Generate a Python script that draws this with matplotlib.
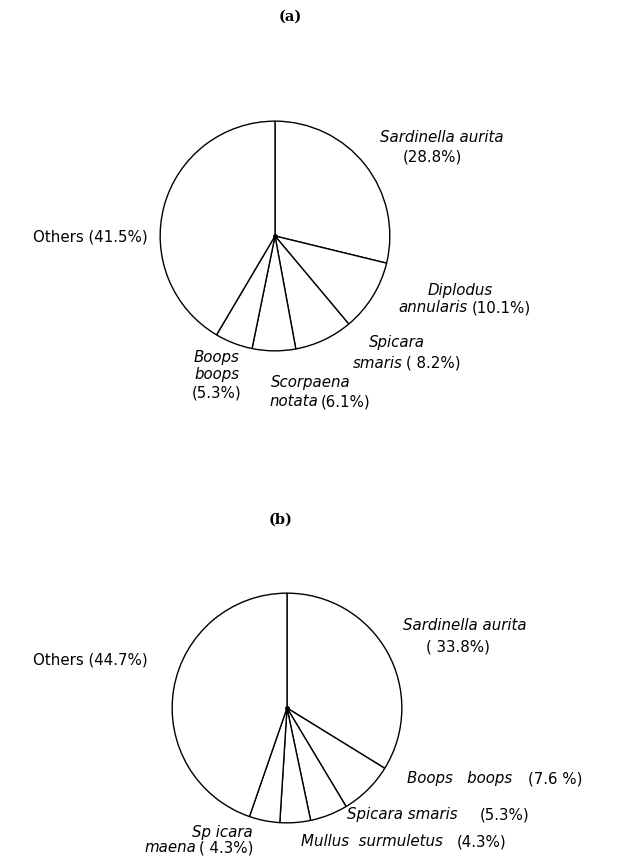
import matplotlib.pyplot as plt

W, H = 623, 859

# (a) species shares
species_a = ['Sardinella aurita', 'Diplodus annularis', 'Spicara smaris',
             'Scorpaena notata', 'Boops boops', 'Others']
share_a = [28.8, 10.1, 8.2, 6.1, 5.3, 41.5]

# (b) species shares
species_b = ['Sardinella aurita', 'Boops boops', 'Spicara smaris',
             'Mullus surmuletus', 'Spicara maena', 'Others']
share_b = [33.8, 7.6, 5.3, 4.3, 4.3, 44.7]

# label pieces: (text, x px, y px, italic, ha)
labels_a = [
    ('Sardinella aurita', 442, 138, True, 'center'),
    ('(28.8%)', 432, 157, False, 'center'),
    ('Others (41.5%)', 148, 237, False, 'right'),
    ('Diplodus', 460, 290, True, 'center'),
    ('annularis', 468, 308, True, 'right'),
    ('(10.1%)', 472, 308, False, 'left'),
    ('Spicara', 397, 343, True, 'center'),
    ('smaris', 403, 363, True, 'right'),
    ('( 8.2%)', 406, 363, False, 'left'),
    ('Boops', 217, 357, True, 'center'),
    ('boops', 217, 375, True, 'center'),
    ('(5.3%)', 217, 393, False, 'center'),
    ('Scorpaena', 311, 383, True, 'center'),
    ('notata', 318, 402, True, 'right'),
    ('(6.1%)', 321, 402, False, 'left'),
]
labels_b = [
    ('Sardinella aurita', 465, 626, True, 'center'),
    ('( 33.8%)', 458, 647, False, 'center'),
    ('Others (44.7%)', 148, 660, False, 'right'),
    ('Boops   boops', 512, 779, True, 'right'),
    ('(7.6 %)', 528, 779, False, 'left'),
    ('Spicara smaris', 458, 815, True, 'right'),
    ('(5.3%)', 480, 815, False, 'left'),
    ('Mullus  surmuletus', 443, 842, True, 'right'),
    ('(4.3%)', 457, 842, False, 'left'),
    ('Sp icara', 222, 832, True, 'center'),
    ('maena', 196, 848, True, 'right'),
    ('( 4.3%)', 199, 848, False, 'left'),
]

plt.rcParams['font.family'] = 'DejaVu Sans'
fig = plt.figure(figsize=(W / 100, H / 100), dpi=100)


def draw_pie(values, cx, cy, r, title, title_x, title_y, labels):
    ax = fig.add_axes([(cx - r) / W, (H - cy - r) / H, 2 * r / W, 2 * r / H])
    ax.pie(values, startangle=90, counterclock=False, radius=1,
           colors=['white'] * len(values),
           wedgeprops={'edgecolor': 'black', 'linewidth': 1.0})
    ax.plot(0, 0, 'o', color='black', markersize=2.5)
    ax.set_xlim(-1.01, 1.01)
    ax.set_ylim(-1.01, 1.01)
    ax.set_axis_off()
    fig.text(title_x / W, 1 - title_y / H, title, ha='center', va='center',
             fontsize=10.5, fontweight='bold', family='DejaVu Serif')
    for txt, x, y, it, ha in labels:
        fig.text(x / W, 1 - y / H, txt, ha=ha, va='center', fontsize=10.8,
                 style='italic' if it else 'normal')


draw_pie(share_a, 275, 236, 116, '(a)', 290, 17, labels_a)
draw_pie(share_b, 287, 708, 116, '(b)', 281, 520, labels_b)

fig.savefig('out.png', dpi=100, facecolor='white')
